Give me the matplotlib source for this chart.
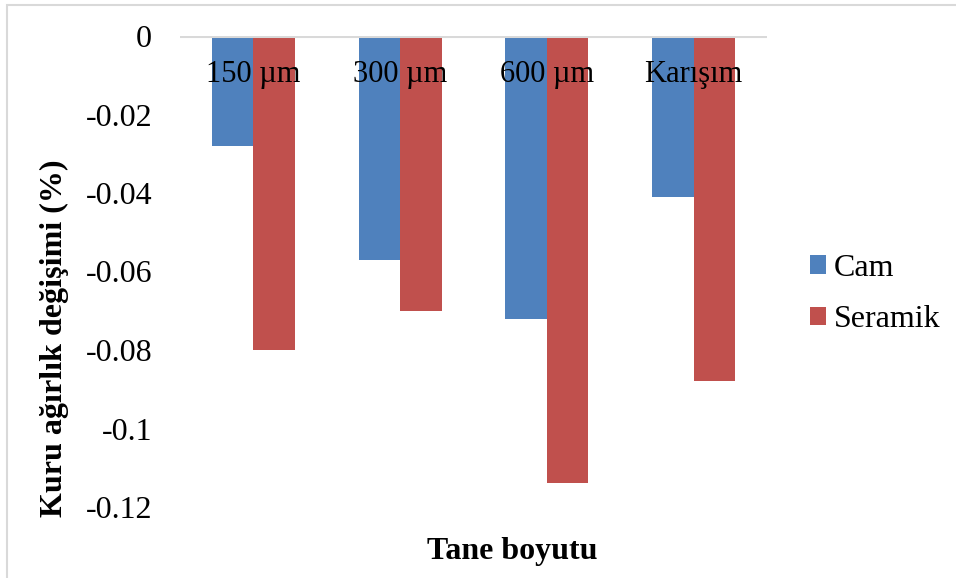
import matplotlib.pyplot as plt
import numpy as np
from matplotlib.patches import Rectangle

plt.rcParams['font.family'] = ['Liberation Serif', 'DejaVu Serif']

categories = ["150 µm", "300 µm", "600 µm", "Karışım"]
cam = [-0.028, -0.057, -0.072, -0.041]
seramik = [-0.080, -0.070, -0.114, -0.088]
yticks = [0, -0.02, -0.04, -0.06, -0.08, -0.1, -0.12]
ytick_labels = ["0", "-0.02", "-0.04", "-0.06", "-0.08", "-0.1", "-0.12"]

blue = "#4F81BD"
red = "#C0504D"

fig = plt.figure(figsize=(9.56, 5.78), dpi=100)
W, H = 956, 578
ax = fig.add_axes([180 / W, 71 / H, 587 / W, 471 / H])

x = np.arange(len(categories))
w = 0.283
ax.bar(x - w / 2, cam, w, color=blue, label="Cam")
ax.bar(x + w / 2, seramik, w, color=red, label="Seramik")

ax.set_xlim(-0.5, len(categories) - 0.5)
ax.set_ylim(-0.12, 0)
ax.set_yticks(yticks)
ax.set_yticklabels(ytick_labels, fontsize=23)
ax.tick_params(axis='y', length=0, pad=20)
ax.set_xticks([])
for s in ax.spines.values():
    s.set_visible(False)
ax.axhline(0, color="#D9D9D9", lw=2.2, zorder=3)

# category names sit just under the zero line
for i, c in enumerate(categories):
    ax.text(i, -0.0099, c, ha="center", va="center", fontsize=22, zorder=4)

fig.text(54 / W, 1 - 338 / H, "Kuru ağırlık değişimi (%)", rotation=90,
         ha="center", va="center", fontsize=23, fontweight="bold")
fig.text(512 / W, 1 - 551 / H, "Tane boyutu", ha="center", va="center",
         fontsize=23, fontweight="bold")

fig.legend(loc="center left", bbox_to_anchor=(797 / W, 1 - 294 / H),
           frameon=False, fontsize=23, handlelength=0.5, handleheight=0.5,
           handletextpad=0.25, labelspacing=0.7, borderaxespad=0)

fig.patches.append(Rectangle((7 / W, -0.05), 1.1, 1 - 5 / H + 0.05,
                             transform=fig.transFigure, fill=False,
                             edgecolor="#D9D9D9", lw=1.5))

fig.savefig("out.png", dpi=100)
